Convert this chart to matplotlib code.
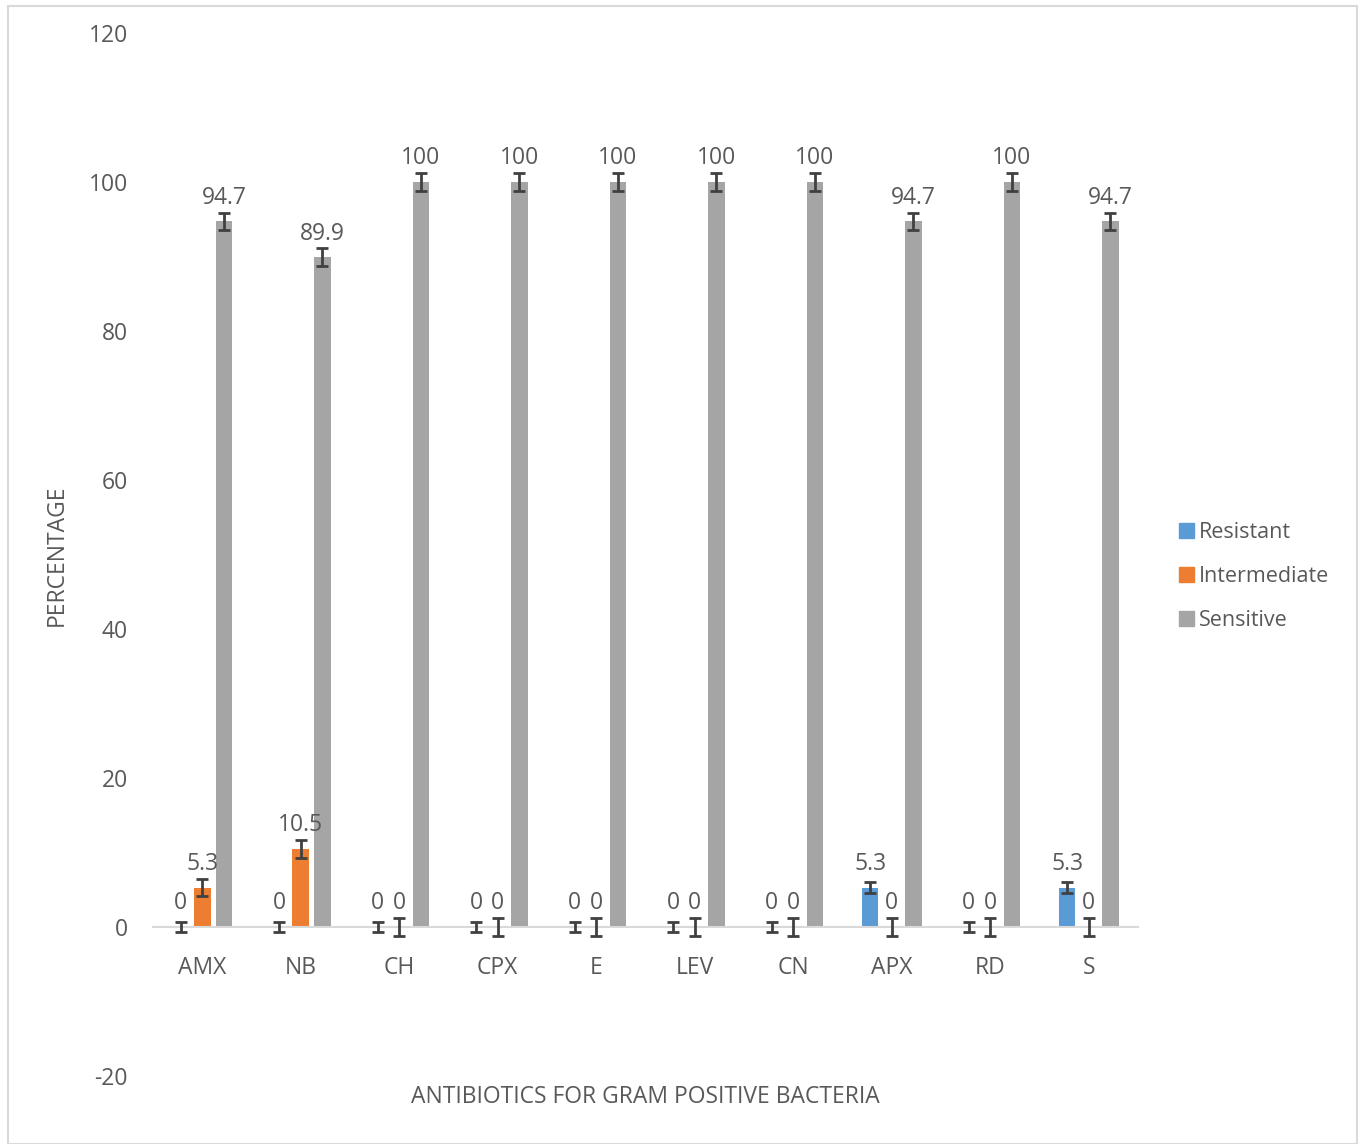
import matplotlib
matplotlib.use("Agg")
import matplotlib.pyplot as plt
import matplotlib.patches as mpatches
import numpy as np

categories = ["AMX", "NB", "CH", "CPX", "E", "LEV", "CN", "APX", "RD", "S"]
resistant = [0, 0, 0, 0, 0, 0, 0, 5.3, 0, 5.3]
intermediate = [5.3, 10.5, 0, 0, 0, 0, 0, 0, 0, 0]
sensitive = [94.7, 89.9, 100, 100, 100, 100, 100, 94.7, 100, 94.7]
resistant_err = [0.7] * 10
intermediate_err = [1.2] * 10
sensitive_err = [1.2] * 10
series_names = ["Resistant", "Intermediate", "Sensitive"]
colors = ["#5B9BD5", "#ED7D31", "#A5A5A5"]

plt.rcParams['font.family'] = ['Open Sans', 'DejaVu Sans']
plt.rcParams['axes.unicode_minus'] = False
txt = "#595959"
fs = 16.5

fig = plt.figure(figsize=(13.65, 11.44), dpi=100)
ax = fig.add_axes([153/1365, 1 - 1076/1144, (1138-153)/1365, (1076-33)/1144])

x = np.arange(len(categories))
w = 0.17
offs = [-0.22, 0.0, 0.22]
data = [resistant, intermediate, sensitive]
errs = [resistant_err, intermediate_err, sensitive_err]
for vals, err, off, col, name in zip(data, errs, offs, colors, series_names):
    ax.bar(x + off, vals, w, color=col, label=name, zorder=2)
    ax.errorbar(x + off, vals, yerr=err, fmt='none', ecolor="#404040",
                elinewidth=2, capsize=4.5, capthick=2, zorder=3)
    for xi, v in zip(x + off, vals):
        ax.annotate(f"{v:g}", (xi, v), xytext=(0, 17.0), textcoords='offset points',
                    ha='center', va='center', fontsize=fs, color=txt)

ax.set_xlim(-0.5, len(categories) - 0.5)
ax.set_ylim(-20, 120)
ax.set_yticks(np.arange(-20, 121, 20))
ax.set_xticks(x)
ax.set_xticklabels(categories)
ax.tick_params(axis='y', length=0, pad=18, labelsize=fs, labelcolor=txt)
ax.tick_params(axis='x', length=0, pad=21, labelsize=fs, labelcolor=txt)
for s in ['top', 'right', 'left']:
    ax.spines[s].set_visible(False)
ax.spines['bottom'].set_position(('data', 0))
ax.spines['bottom'].set_color("#D9D9D9")
ax.spines['bottom'].set_linewidth(1.5)

fig.text(645/1365, 1 - 1097/1144, "ANTIBIOTICS FOR GRAM POSITIVE BACTERIA",
         ha='center', va='center', fontsize=fs, color=txt)
fig.text(57/1365, 1 - 555/1144, "PERCENTAGE", rotation=90,
         ha='center', va='center', fontsize=fs, color=txt)

handles = [mpatches.Patch(color=c, label=n) for c, n in zip(colors, series_names)]
fig.legend(handles=handles, loc='upper left', bbox_to_anchor=(1160/1365, 1 - 503/1144),
           frameon=False, fontsize=15.5, labelcolor=txt, handlelength=0.7,
           handleheight=0.7, handletextpad=0.2, labelspacing=1.05)

fig.patches.append(mpatches.Rectangle((8/1365, 0), (1357-8)/1365, 1 - 6/1144,
                                      transform=fig.transFigure, fill=False,
                                      edgecolor="#D9D9D9", linewidth=1.5))

fig.savefig("out.png", dpi=100)
